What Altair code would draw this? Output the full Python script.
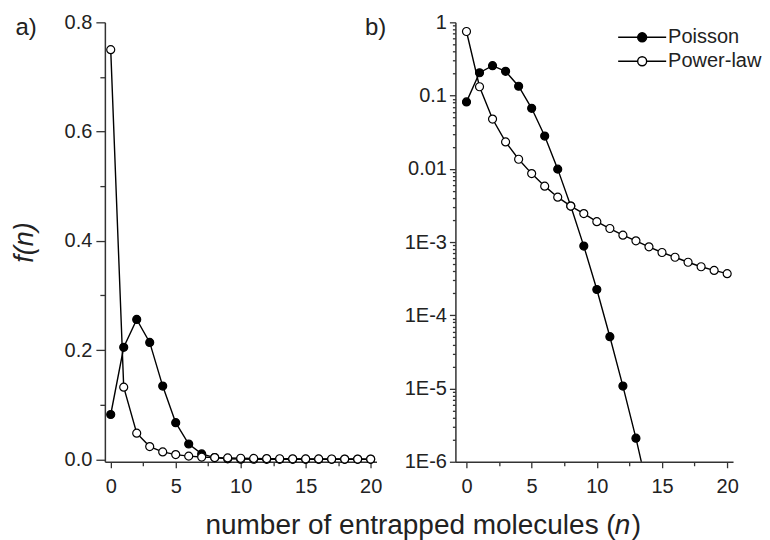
import altair as alt
import pandas as pd

# ---------------- data ----------------
n_values = list(range(21))
poisson = [0.082, 0.205, 0.256, 0.214, 0.134, 0.067, 0.028, 0.0099, 0.0031,
           0.00088, 0.000225, 0.000051, 0.0000108, 0.0000021, 0.00000035,
           6e-8, 9e-9, 1.3e-9, 1.8e-10, 2.4e-11, 3e-12]
power_law = [0.75, 0.132, 0.0478, 0.0233, 0.0135, 0.0086, 0.0058, 0.0041,
             0.0031, 0.00245, 0.0019, 0.00153, 0.00124, 0.00104, 0.00086,
             0.00072, 0.00062, 0.00053, 0.00046, 0.00041, 0.00037]
series_names = ["Poisson", "Power-law"]

x_ticks = [0, 2.5, 5, 7.5, 10, 12.5, 15, 17.5, 20]
lin_ticks = [0, 0.1, 0.2, 0.3, 0.4, 0.5, 0.6, 0.7, 0.8]
log_major = [1, 0.1, 0.01, 0.001, 0.0001, 0.00001, 0.000001]
log_minor = [float(f"{k}e{d}") for d in range(-6, 0) for k in range(2, 10)]

rows = []
for i, n in enumerate(n_values):
    rows.append({"n": n, "f": poisson[i], "series": series_names[0]})
for i, n in enumerate(n_values):
    rows.append({"n": n, "f": power_law[i], "series": series_names[1]})
df = pd.DataFrame(rows)

FONT = "Liberation Sans"
TXT = "#222222"
AX = "#333333"

LEG_PATH = "M-2.67,0H-0.5M0.5,0H2.67M0.5,0A0.5,0.5,0,1,1,-0.5,0A0.5,0.5,0,1,1,0.5,0"

fill_scale = alt.Scale(domain=series_names, range=["black", "white"])

TITLE_STYLE = dict(titleFont=FONT, titleFontWeight="normal", titleColor=TXT,
                   titleBaseline="alphabetic")


def x_axis(title, title_x, align, style):
    return alt.Axis(
        orient="bottom",
        values=x_ticks,
        labelExpr="datum.value % 5 == 0 ? datum.label : ''",
        tickSize={"condition": {"test": "datum.value % 5 == 0", "value": 6}, "value": 4},
        labelPadding=9, labelFlush=False, labelOverlap=False,
        title=title, titleX=title_x, titleY=72, titleAlign=align,
        titleAnchor="start" if align == "left" else "end",
        titleFontStyle=style, titleFontSize=28, **TITLE_STYLE,
    )


def text_axis(text, orient, tx, ty, size, style="normal"):
    # an axis that draws only its title (used for extra text pieces)
    return alt.Axis(
        orient=orient, domain=False, ticks=False, labels=False, grid=False,
        title=text, titleX=tx, titleY=ty, titleAngle=0, titleAlign="left",
        titleAnchor="start", titleFontSize=size, titleFontStyle=style, **TITLE_STYLE,
    )


def panel(y_scale, y_axis, x_scale, xax, extra_axis, legend, clip, w):
    lines = alt.Chart(df).mark_line(color="black", strokeWidth=1.4, clip=clip).encode(
        x=alt.X("n:Q", scale=x_scale, axis=extra_axis),
        y=alt.Y("f:Q", scale=y_scale, axis=y_axis),
        detail="series:N",
    )
    pts = []
    for k, s in enumerate(series_names):
        pts.append(
            alt.Chart(df)
            .transform_filter(alt.datum.series == s)
            .mark_point(shape="circle", size=64, stroke="black", strokeWidth=1.2,
                        opacity=1, fillOpacity=1, clip=clip)
            .encode(
                x=alt.X("n:Q", scale=x_scale, axis=xax if k == 0 else None),
                y=alt.Y("f:Q", scale=y_scale, axis=y_axis),
                fill=alt.Fill("series:N", scale=fill_scale, legend=legend),
            )
        )
    return (
        alt.layer(lines, *pts)
        .resolve_axis(x="independent")
        .properties(width=w, height=440)
    )


left_y = alt.Axis(
    values=lin_ticks,
    labelExpr="indexof([0, 0.2, 0.4, 0.6, 0.8], datum.value) >= 0 ? format(datum.value, '.1f') : ''",
    tickSize={"condition": {"test": "indexof([0, 0.2, 0.4, 0.6, 0.8], datum.value) >= 0", "value": 9}, "value": 5},
    labelPadding=4, labelFlush=False, labelOverlap=False,
    title="f(n)", titleFontStyle="italic", titleFontSize=27, titleFont=FONT,
    titleFontWeight="normal", titleColor=TXT, titlePadding=26,
)

right_y = alt.Axis(
    values=log_major + log_minor,
    labelExpr=("datum.value == 1 ? '1' : datum.value == 0.1 ? '0.1' : datum.value == 0.01 ? '0.01' : "
               "datum.value == 0.001 ? '1E-3' : datum.value == 0.0001 ? '1E-4' : "
               "datum.value == 0.00001 ? '1E-5' : datum.value == 0.000001 ? '1E-6' : ''"),
    tickSize={"condition": {"test": "indexof([1, 0.1, 0.01, 0.001, 0.0001, 0.00001, 0.000001], datum.value) >= 0", "value": 6}, "value": 3},
    labelPadding=3, labelFlush=False, labelOverlap=False,
    title="b)", titleX=-91, titleY=12, titleAngle=0, titleAlign="left",
    titleFontSize=24, **TITLE_STYLE,
)

legend = alt.Legend(
    title=None, orient="none", legendX=177, legendY=5, padding=0,
    symbolType=LEG_PATH, symbolSize=324, symbolStrokeColor="black",
    symbolStrokeWidth=1.4, labelFont=FONT, labelFontSize=20, labelColor=TXT,
    labelOffset=16, rowPadding=4,
)

left = panel(
    alt.Scale(domain=[-0.0045, 0.8], nice=False, zero=False), left_y,
    alt.Scale(domain=[-0.45, 20.45], nice=False, zero=False),
    x_axis("number of entrapped molecules (", 511, "right", "normal"),
    text_axis("a)", "top", -90, 12, 24),
    None, False, 272,
)
right = panel(
    alt.Scale(type="log", domain=[0.000001, 1], nice=False), right_y,
    alt.Scale(domain=[-0.85, 20.45], nice=False, zero=False),
    x_axis("n", 159, "left", "italic"),
    text_axis(")", "bottom", 176, 72, 28),
    legend, True, 278,
)

chart = (
    alt.hconcat(left, right, spacing=79, bounds="flush")
    .resolve_scale(fill="independent")
    .properties(
        background="white",
        padding={"left": 2, "top": 4, "right": 0, "bottom": 0},
    )
    .configure_view(stroke=None)
    .configure_axis(
        grid=False, labelFont=FONT, labelFontSize=20, labelColor=TXT,
        domainColor=AX, domainWidth=1.5, tickColor=AX, tickWidth=1.3,
    )
)

chart.save("out.html", embed_options={"renderer": "svg", "actions": False})
